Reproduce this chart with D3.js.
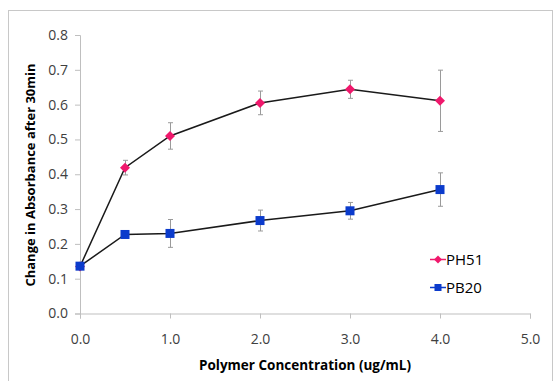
<!DOCTYPE html>
<html>
<head>
<meta charset="utf-8">
<script src="https://cdn.jsdelivr.net/npm/d3@7"></script>
<style>
  body { margin: 0; background: #fff; }
  svg { display: block; font-family: "Open Sans", "Noto Sans", sans-serif; }
</style>
</head>
<body>
<svg id="chart" width="556" height="381"></svg>
<script>
// Polymer concentration (ug/mL) on the x axis
const concentrations = [0.0, 0.5, 1.0, 2.0, 3.0, 4.0];
// Change in absorbance after 30 min, with error bar half-widths
const ph51Values = [0.135, 0.419, 0.510, 0.605, 0.644, 0.611];
const ph51Errors = [0.000, 0.021, 0.038, 0.034, 0.026, 0.088];
const pb20Values = [0.136, 0.227, 0.230, 0.267, 0.295, 0.356];
const pb20Errors = [0.000, 0.000, 0.040, 0.030, 0.024, 0.048];
const seriesNames = ["PH51", "PB20"];
const xTicks = [0, 1, 2, 3, 4, 5];
const yTicks = [0, 0.1, 0.2, 0.3, 0.4, 0.5, 0.6, 0.7, 0.8];

const svg = d3.select("#chart");

// outer chart frame
svg.append("rect")
  .attr("x", 8.5).attr("y", 10.5)
  .attr("width", 544).attr("height", 380)
  .attr("fill", "#fff").attr("stroke", "#c8c8c8").attr("stroke-width", 1);

const x = d3.scaleLinear().domain([0, 5]).range([80, 530]);
const y = d3.scaleLinear().domain([0, 0.8]).range([313.5, 35]);

const axisColor = "#bfbfbf";
const tickText = "#404040";

// y axis
const yAxis = svg.append("g")
  .attr("transform", `translate(${x(0)},0)`)
  .call(d3.axisLeft(y).tickValues(yTicks).tickFormat(d3.format(".1f")).tickSize(5).tickPadding(7));
// x axis
const xAxis = svg.append("g")
  .attr("transform", `translate(0,${y(0)})`)
  .call(d3.axisBottom(x).tickValues(xTicks).tickFormat(d3.format(".1f")).tickSize(5).tickPadding(16));

[yAxis, xAxis].forEach(g => {
  g.selectAll("path, line").attr("stroke", axisColor);
  g.selectAll("text").attr("fill", tickText).style("font-size", "14px")
    .style("font-family", "'Open Sans', sans-serif");
});

// axis titles
svg.append("text")
  .attr("x", 305).attr("y", 370)
  .attr("text-anchor", "middle")
  .style("font-size", "13.5px").style("font-weight", "bold").attr("fill", "#000")
  .text("Polymer Concentration (ug/mL)");

svg.append("text")
  .attr("transform", `translate(35,175) rotate(-90)`)
  .attr("text-anchor", "middle")
  .style("font-size", "13px").style("font-weight", "bold").attr("fill", "#000")
  .text("Change in Absorbance after 30min");

const series = [
  { name: seriesNames[0], values: ph51Values, errors: ph51Errors, color: "#f0186c", shape: "diamond" },
  { name: seriesNames[1], values: pb20Values, errors: pb20Errors, color: "#0b3bcc", shape: "square" }
];

const line = d3.line().x(d => x(d[0])).y(d => y(d[1]));

series.forEach(s => {
  const pts = concentrations.map((c, i) => [c, s.values[i], s.errors[i]]);
  // error bars
  const eb = svg.append("g").attr("stroke", "#9a9a9a").attr("stroke-width", 1);
  pts.filter(p => p[2] > 0).forEach(p => {
    const cx = Math.round(x(p[0])) + 0.5;
    eb.append("line").attr("x1", cx).attr("x2", cx).attr("y1", y(p[1] + p[2])).attr("y2", y(p[1] - p[2]));
    eb.append("line").attr("x1", cx - 2.5).attr("x2", cx + 2.5).attr("y1", y(p[1] + p[2])).attr("y2", y(p[1] + p[2]));
    eb.append("line").attr("x1", cx - 2.5).attr("x2", cx + 2.5).attr("y1", y(p[1] - p[2])).attr("y2", y(p[1] - p[2]));
  });
  svg.append("path").datum(pts).attr("d", line)
    .attr("fill", "none").attr("stroke", "#1a1a1a").attr("stroke-width", 1.5);
});

function marker(g, shape, color, cx, cy, r) {
  if (shape === "square") {
    g.append("rect").attr("x", cx - r).attr("y", cy - r).attr("width", 2 * r).attr("height", 2 * r).attr("fill", color);
  } else {
    const d = r + 0.5;
    g.append("path").attr("d", `M${cx},${cy - d}L${cx + d},${cy}L${cx},${cy + d}L${cx - d},${cy}Z`).attr("fill", color);
  }
}

// markers (PB20 drawn last so its square sits on top at the origin)
series.forEach(s => {
  const g = svg.append("g");
  concentrations.forEach((c, i) => marker(g, s.shape, s.color, x(c), y(s.values[i]), 4.5));
});

// legend
const legend = svg.append("g");
series.forEach((s, i) => {
  const ly = 259.5 + i * 28;
  legend.append("line").attr("x1", 430).attr("x2", 446).attr("y1", ly).attr("y2", ly)
    .attr("stroke", s.color).attr("stroke-width", 1.5);
  marker(legend, s.shape, s.color, 438, ly, 3.5);
  legend.append("text").attr("x", 446).attr("y", ly + 5.5)
    .style("font-size", "15px").attr("fill", "#000").text(s.name);
});
</script>
</body>
</html>
